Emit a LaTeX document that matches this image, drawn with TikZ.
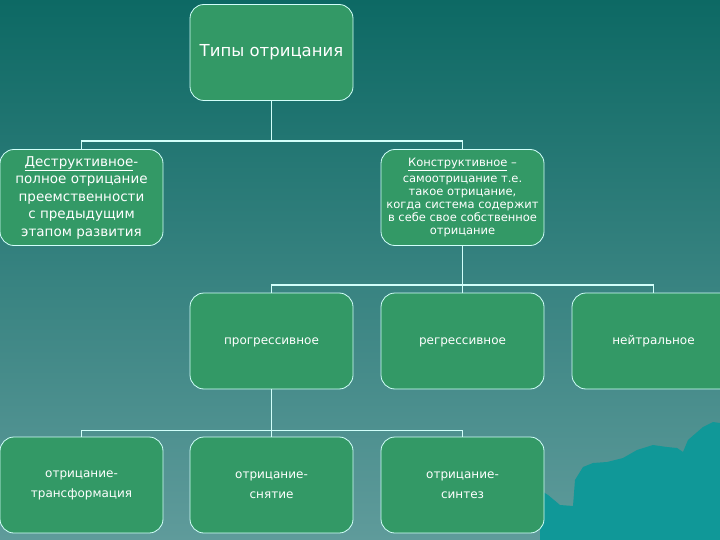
\documentclass[tikz,border=0pt]{standalone}
\usepackage{fontspec}
\setmainfont{DejaVu Sans}

\definecolor{bgtop}{RGB}{13,105,100}
\definecolor{bgbot}{RGB}{95,155,155}
\definecolor{boxgreen}{RGB}{51,153,102}
\definecolor{linecyan}{RGB}{210,255,250}
\definecolor{hill}{RGB}{16,152,152}

\begin{document}
\begin{tikzpicture}[x=1pt, y=-1pt,
    box/.style={draw=linecyan, line width=0.8pt, fill=boxgreen, rounded corners=14pt,
      minimum width=163pt, minimum height=96pt, text=white, align=center, inner sep=0pt},
    link/.style={draw=linecyan, line width=1.8pt}]
  \clip (0,0) rectangle (720,540);
  %% background
  \shade[top color=bgtop, bottom color=bgbot] (0,0) rectangle (720,540);
  \fill[hill] (540,490) -- (548,495) -- (560,505) -- (573,506) -- (575,480) -- (583,467)
    -- (593,463) -- (607,462) -- (623,458) -- (637,450) -- (653,445) -- (667,447)
    -- (677,448) -- (683,452) -- (688,440) -- (703,427) -- (713,422) -- (720,423)
    -- (720,540) -- (540,540) -- cycle;

  %% top
  \node[box, font=\fontsize{16.5}{20}\selectfont] (types) at (271.5,52.5) {Типы отрицания};

  %% second row
  \node[box, font=\fontsize{13.5}{17.5}\selectfont] (destr) at (81.5,197.5)
    {\underline{Деструктивное}-\\полное отрицание\\преемственности\\с предыдущим\\этапом развития};
  \node[box, font=\fontsize{11.5}{13}\selectfont] (constr) at (462.5,197.5)
    {\underline{Конструктивное} --\\[3pt]самоотрицание т.е.\\такое отрицание,\\когда система содержит\\в себе свое собственное\\отрицание};

  %% third row
  \node[box, font=\fontsize{12}{15}\selectfont] (progr) at (271.5,341) {\strut прогрессивное};
  \node[box, font=\fontsize{12}{15}\selectfont] (regr) at (462.5,341) {\strut регрессивное};
  \node[box, font=\fontsize{12}{15}\selectfont] (neutr) at (653.5,341) {\strut нейтральное};

  %% fourth row
  \node[box, font=\fontsize{12}{20}\selectfont] (transf) at (81.5,485) {отрицание-\\трансформация};
  \node[box, font=\fontsize{12}{20}\selectfont] (remov) at (271.5,485) {отрицание-\\снятие};
  \node[box, font=\fontsize{12}{20}\selectfont] (synth) at (462.5,485) {отрицание-\\синтез};

  %% links
  \draw[link] (types.south) -- ++(0,40) -| (destr.north);
  \draw[link] (types.south) -- ++(0,40) -| (constr.north);
  \draw[link] (constr.south) -- ++(0,39) -| (progr.north);
  \draw[link] (constr.south) -- ++(0,39) -| (neutr.north);
  \draw[link] (constr.south) -- (regr.north);
  \draw[link] (progr.south) -- ++(0,41) -| (transf.north);
  \draw[link] (progr.south) -- ++(0,41) -| (synth.north);
  \draw[link] (progr.south) -- (remov.north);
\end{tikzpicture}
\end{document}
